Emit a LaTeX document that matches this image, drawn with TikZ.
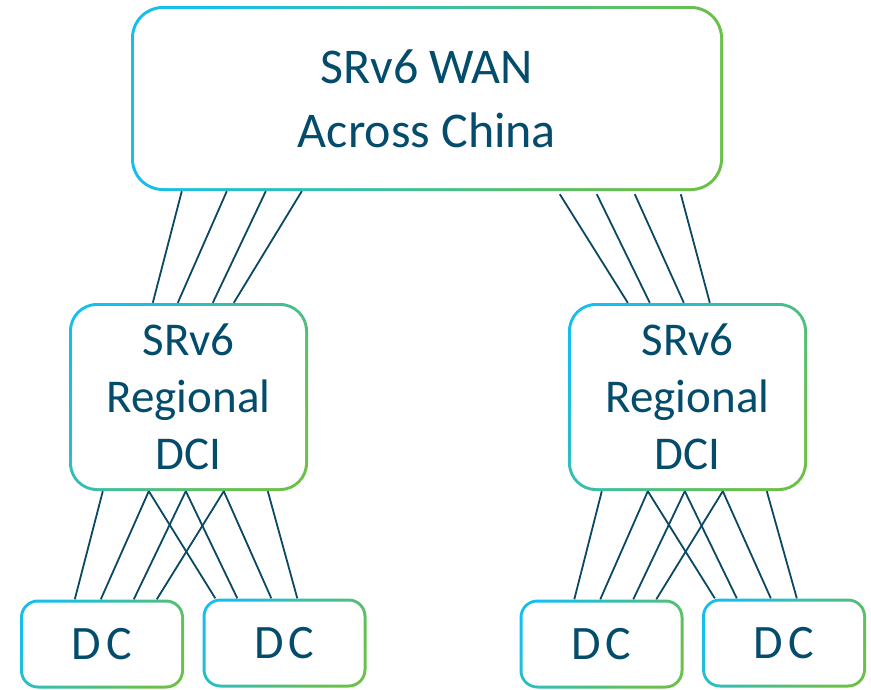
\documentclass[tikz,border=0pt]{standalone}
\usepackage{fontspec}
\setmainfont{Carlito}
\definecolor{cyanc}{RGB}{22,190,236}
\definecolor{greenc}{RGB}{106,192,72}
\definecolor{txtc}{RGB}{4,76,108}
\definecolor{linkc}{RGB}{10,72,100}
\begin{document}
\begin{tikzpicture}[x=1pt,y=-1pt,
  gbox/.style={rectangle, inner sep=0pt, align=center, text=txtc,
    left color=cyanc, right color=greenc, shading angle=#1},
  wanbox/.style={gbox=70, rounded corners=32pt, minimum width=592pt, minimum height=185pt,
    font=\fontsize{50}{64}\selectfont,
    path picture={\fill[white, rounded corners=29pt]
      ([shift={(3pt,3pt)}]path picture bounding box.south west) rectangle
      ([shift={(-3pt,-3pt)}]path picture bounding box.north east);}},
  dcibox/.style={gbox=50, rounded corners=28pt, minimum width=239pt, minimum height=188pt,
    font=\fontsize{47}{57}\selectfont,
    path picture={\fill[white, rounded corners=25pt]
      ([shift={(3pt,3pt)}]path picture bounding box.south west) rectangle
      ([shift={(-3pt,-3pt)}]path picture bounding box.north east);}},
  dcbox/.style={gbox=50, rounded corners=18pt, minimum width=164pt, minimum height=89pt,
    font=\fontsize{48}{58}\selectfont,
    path picture={\fill[white, rounded corners=15pt]
      ([shift={(3pt,3pt)}]path picture bounding box.south west) rectangle
      ([shift={(-3pt,-3pt)}]path picture bounding box.north east);}},
  link/.style={draw=linkc, line width=1.8pt}]
\useasboundingbox (0,0) rectangle (871,689);

\node[wanbox] (wan) at (427,98.5) {SRv6 WAN\\Across China};
\node[dcibox] (mdl) at (188.5,397) {SRv6\\Regional\\DCI};
\node[dcibox] (mdr) at (687.5,397) {SRv6\\Regional\\DCI};
\node[dcbox] (dca) at (102,644) {D\kern5pt C};
\node[dcbox] (dcb) at (284.5,643) {D\kern5pt C};
\node[dcbox] (dcc) at (601.5,644) {D\kern5pt C};
\node[dcbox] (dcd) at (784,643) {D\kern5pt C};

\foreach \a/\b in {51/84, 96/109, 135/144, 171/165}
  \draw[link] ([xshift=\a pt]wan.south west) -- ([xshift=\b pt]mdl.north west);
\foreach \a/\b in {429/60, 466/82, 504/116, 550/142}
  \draw[link] ([xshift=\a pt, yshift=-3pt]wan.south west) -- ([xshift=\b pt]mdr.north west);

\foreach \m/\da/\db in {mdl/dca/dcb, mdr/dcc/dcd} {
  \foreach \a/\n/\b in {34/\da/55, 80/\da/81, 80/\db/13, 117/\da/114, 117/\db/35,
                        155/\da/137, 155/\db/69, 199/\db/95}
    \draw[link] ([xshift=\a pt]\m.south west) -- ([xshift=\b pt]\n.north west);
}
\end{tikzpicture}
\end{document}
